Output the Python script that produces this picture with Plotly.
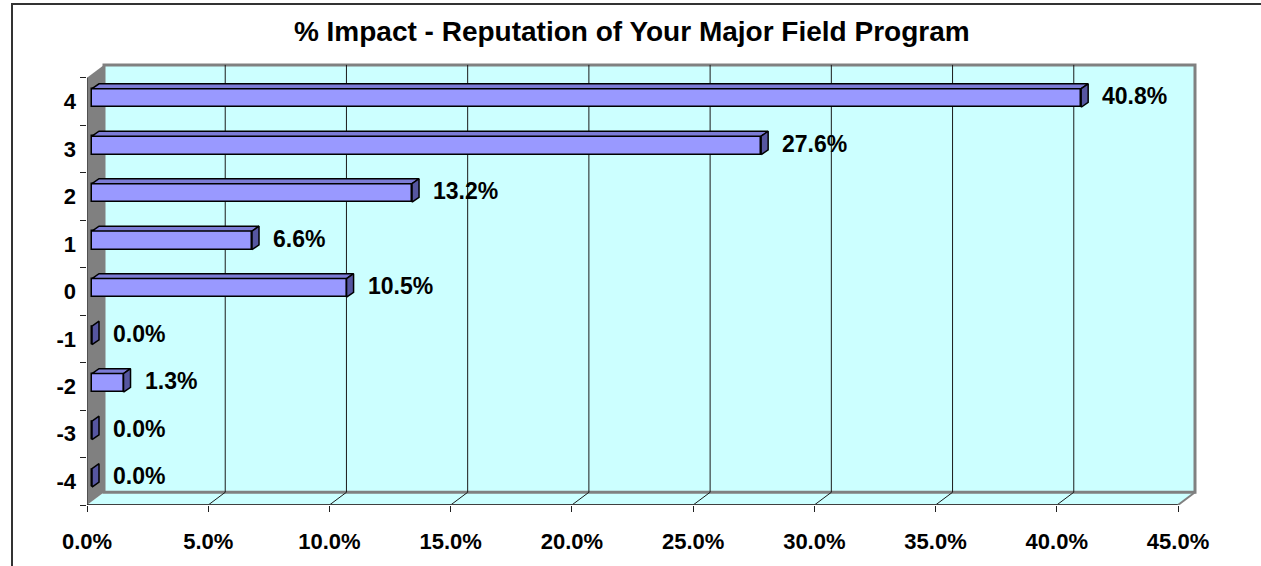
import plotly.graph_objects as go

# ---- data ----
categories = ["-4", "-3", "-2", "-1", "0", "1", "2", "3", "4"]
percent_values = [0.0, 0.0, 1.3, 0.0, 10.5, 6.6, 13.2, 27.6, 40.8]
x_ticks = [0, 5, 10, 15, 20, 25, 30, 35, 40, 45]
x_tick_labels = ["0.0%", "5.0%", "10.0%", "15.0%", "20.0%", "25.0%",
                 "30.0%", "35.0%", "40.0%", "45.0%"]
title_text = "% Impact - Reputation of Your Major Field Program"

# ---- geometry of the pseudo-3D frame (pixels) ----
W, H = 1261, 566
FRONT_LEFT, FRONT_BOTTOM = 87, 515      # front plane origin on screen
PX_PER_PCT = 1091 / 45                  # horizontal scale
PX_PER_CAT = 437 / 9                    # vertical scale per category
WALL_DX, WALL_DY = 17, 13               # depth of walls
PAD = 4                                 # room for wall border lines
BAR_X0, BAR_DX, BAR_DY = 5, 7, 5        # bar position / depth
BAR_H, BAR_LIFT = 19, 3.5               # bar face height / vertical lift

XMAX = x_ticks[-1]
n = len(categories)
wdx = WALL_DX / PX_PER_PCT
wdy = WALL_DY / PX_PER_CAT
x_range = [0, XMAX + wdx + PAD / PX_PER_PCT]
y_range = [-0.5, n - 0.5 + wdy + PAD / PX_PER_CAT]
plot_w = (x_range[1] - x_range[0]) * PX_PER_PCT
plot_h = (y_range[1] - y_range[0]) * PX_PER_CAT
ML = FRONT_LEFT
MB = H - FRONT_BOTTOM
MR = W - ML - plot_w
MT = H - MB - plot_h

bx0 = BAR_X0 / PX_PER_PCT
bdx = BAR_DX / PX_PER_PCT
bdy = BAR_DY / PX_PER_CAT
bh = BAR_H / PX_PER_CAT
blift = BAR_LIFT / PX_PER_CAT

FONT = "Liberation Sans, Arial, sans-serif"
CYAN = "#CCFFFF"
WALL_GREY = "#808080"
BAR_FRONT = "#9999FF"
BAR_TOP = "#7C7CD6"
BAR_SIDE = "#5656A0"

fig = go.Figure()

ypos = list(range(n))

# front faces of the bars
fig.add_trace(go.Bar(
    orientation="h",
    y=[i + blift for i in ypos],
    x=percent_values,
    base=bx0,
    width=bh,
    marker=dict(color=BAR_FRONT, line=dict(color="black", width=1.5)),
    hoverinfo="skip",
    showlegend=False,
))

# top and side faces of the bars
top_x, top_y, side_x, side_y = [], [], [], []
for i, v in zip(ypos, percent_values):
    yb = i + blift - bh / 2
    yt = i + blift + bh / 2
    xl = bx0
    xr = bx0 + v
    if v > 0:
        top_x += [xl, xr, xr + bdx, xl + bdx, xl, None]
        top_y += [yt, yt, yt + bdy, yt + bdy, yt, None]
    side_x += [xr, xr, xr + bdx, xr + bdx, xr, None]
    side_y += [yb, yt, yt + bdy, yb + bdy, yb, None]

fig.add_trace(go.Scatter(
    x=top_x, y=top_y, mode="lines", fill="toself", fillcolor=BAR_TOP,
    line=dict(color="black", width=1.5), hoverinfo="skip", showlegend=False,
))
fig.add_trace(go.Scatter(
    x=side_x, y=side_y, mode="lines", fill="toself", fillcolor=BAR_SIDE,
    line=dict(color="black", width=1.5), hoverinfo="skip", showlegend=False,
))

# ---- walls, floor and grid ----
y_lo, y_hi = -0.5, n - 0.5
shapes = []
# floor
shapes.append(dict(type="path", xref="x", yref="y", layer="below",
                   path=f"M 0,{y_lo} L {XMAX},{y_lo} L {XMAX + wdx},{y_lo + wdy} "
                        f"L {wdx},{y_lo + wdy} Z",
                   fillcolor=CYAN, line=dict(width=0)))
# left side wall
shapes.append(dict(type="path", xref="x", yref="y", layer="below",
                   path=f"M 0,{y_lo} L {wdx},{y_lo + wdy} L {wdx},{y_hi + wdy} "
                        f"L 0,{y_hi} Z",
                   fillcolor=WALL_GREY, line=dict(width=0)))
# back wall
shapes.append(dict(type="rect", xref="x", yref="y", layer="below",
                   x0=wdx, x1=XMAX + wdx, y0=y_lo + wdy, y1=y_hi + wdy,
                   fillcolor=CYAN, line=dict(color=WALL_GREY, width=3)))
# vertical gridlines on the back wall and their traces across the floor
for t in x_ticks[1:-1]:
    shapes.append(dict(type="line", xref="x", yref="y", layer="below",
                       x0=t + wdx, x1=t + wdx, y0=y_lo + wdy, y1=y_hi + wdy,
                       line=dict(color="#1a1a1a", width=1)))
    shapes.append(dict(type="line", xref="x", yref="y", layer="below",
                       x0=t, x1=t + wdx, y0=y_lo, y1=y_lo + wdy,
                       line=dict(color="#1a1a1a", width=1)))
# front edge of the floor and right slanted edge
shapes.append(dict(type="line", xref="x", yref="y", layer="below",
                   x0=0, x1=XMAX, y0=y_lo, y1=y_lo,
                   line=dict(color="#404040", width=2)))
shapes.append(dict(type="line", xref="x", yref="y", layer="below",
                   x0=XMAX, x1=XMAX + wdx, y0=y_lo, y1=y_lo + wdy,
                   line=dict(color=WALL_GREY, width=2)))
# value-axis (left) line
shapes.append(dict(type="line", xref="x", yref="y", layer="below",
                   x0=0, x1=0, y0=y_lo, y1=y_hi,
                   line=dict(color="#202020", width=1)))
# chart-area border
shapes.append(dict(type="rect", xref="paper", yref="paper",
                   xsizemode="pixel", ysizemode="pixel",
                   xanchor=0, yanchor=1,
                   x0=-(ML - 12), x1=W, y0=-H, y1=MT - 4,
                   line=dict(color="#333333", width=2), fillcolor="rgba(0,0,0,0)"))

# ---- data labels ----
annotations = []
for i, v in zip(ypos, percent_values):
    annotations.append(dict(
        x=v, y=i, xref="x", yref="y", text=f"{v:.1f}%", showarrow=False,
        xanchor="left", yanchor="middle", xshift=24, yshift=5,
        font=dict(family=FONT, size=23, color="black", weight="bold"),
    ))

fig.update_layout(
    width=W, height=H,
    margin=dict(l=ML, r=MR, t=MT, b=MB, pad=0),
    paper_bgcolor="white", plot_bgcolor="white",
    shapes=shapes, annotations=annotations,
    bargap=0,
    title=dict(text=title_text, x=0.501, xref="container", xanchor="center",
               y=1 - 31 / H, yref="container", yanchor="middle",
               font=dict(family=FONT, size=28, color="black", weight="bold")),
    xaxis=dict(range=x_range, tickvals=x_ticks, ticktext=x_tick_labels,
               ticks="outside", ticklen=6, tickcolor="#202020", tickwidth=1,
               showgrid=False, zeroline=False, showline=False, fixedrange=True,
               ticklabelstandoff=11,
               tickfont=dict(family=FONT, size=22, color="black", weight="bold")),
    yaxis=dict(range=y_range, tickvals=ypos, ticktext=categories,
               ticks="", showgrid=False, zeroline=False, showline=False,
               fixedrange=True, ticklabelstandoff=10,
               minor=dict(tickvals=[k - 0.5 for k in range(n + 1)],
                          ticks="outside", ticklen=6, tickcolor="#202020",
                          tickwidth=1, showgrid=False),
               tickfont=dict(family=FONT, size=22, color="black", weight="bold")),
)

fig.write_html("out.html")
